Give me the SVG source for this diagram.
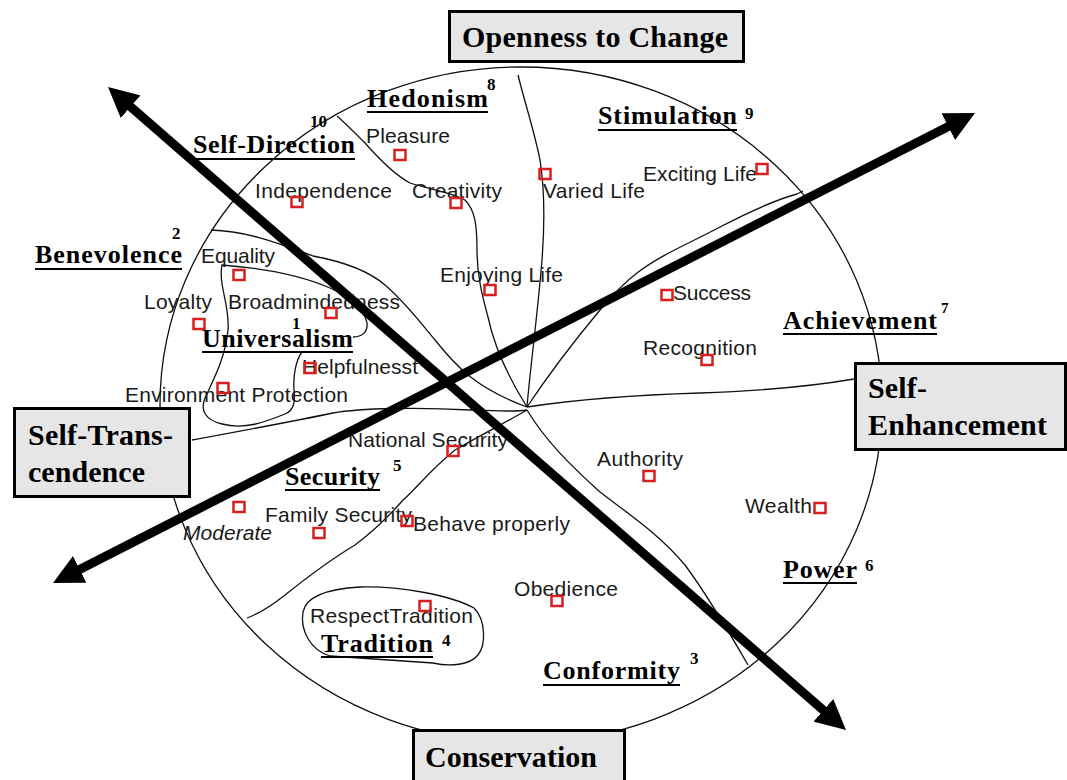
<svg xmlns="http://www.w3.org/2000/svg" width="1067" height="780" viewBox="0 0 1067 780">
<defs>
<marker id="ah" viewBox="0 0 30 30" refX="4" refY="15" markerWidth="30" markerHeight="30" markerUnits="userSpaceOnUse" orient="auto-start-reverse"><path d="M0,0 L30,15 L0,30 z" fill="#000"/></marker>
<style>
.bd{fill:none;stroke:#111;stroke-width:1.3}
.cat{font-family:"Liberation Serif","Times New Roman",serif;font-weight:bold;font-size:26px;fill:#000}
.num{font-family:"Liberation Serif","Times New Roman",serif;font-weight:bold;font-size:17px;fill:#000}
.ul{stroke:#000;stroke-width:2}
.val{font-family:"Liberation Sans",Arial,sans-serif;font-size:21px;fill:#1a1a1a}
.it{font-style:italic}
.sq{fill:none;stroke:#d81e1e;stroke-width:2.5}
.box rect{fill:#e6e6e6;stroke:#000;stroke-width:3}
.box text{font-family:"Liberation Serif","Times New Roman",serif;font-weight:bold;font-size:30px;fill:#000}
.arr{stroke:#000;stroke-width:9;fill:none}
</style>
</defs>
<rect width="1067" height="780" fill="#fff"/>

<g id="regions">
<ellipse cx="521" cy="405" rx="361" ry="338" class="bd"/>
<path class="bd" d="M527,407 Q600,396 700,393 Q790,390 854,379"/>
<path class="bd" d="M527,407 C545,380 575,340 600,310 C615,292 625,282 637,273 C660,255 690,243 720,227 C745,214 775,200 797,194 L803,191"/>
<path class="bd" d="M527,407 C530,370 537,320 542,260 C545,220 544,185 540,160 C534,130 524,100 518,75"/>
<path class="bd" d="M527,407 C510,380 495,350 488,317 C482,295 477,275 477,250 C477,225 475,210 465,200 C450,192 425,188 410,183 C395,175 380,160 365,143 C352,130 342,120 337,116"/>
<path class="bd" d="M211,230 C250,231 285,246 313,256 C345,262 370,272 385,285 C405,302 420,322 435,340 C455,365 475,388 527,407"/>
<path class="bd" d="M353,337 C362,337 368,332 367,323 C365,310 350,297 330,288 C300,275 260,268 222,265 C218,285 230,305 228,330 C225,360 212,382 205,398 C200,410 205,420 222,424 C245,430 265,422 285,414 C295,410 295,400 294,390 C293,375 296,360 302,352"/>
<path class="bd" d="M192,440 C230,433 290,422 333,413 C360,408 420,407 470,410 C495,411 515,412 527,410"/>
<path class="bd" d="M527,410 C510,420 490,430 455,450 C430,470 415,490 403,500 C390,515 375,530 355,545 C330,560 310,575 285,595 C270,607 258,614 247,618"/>
<path class="bd" d="M527,410 C545,440 570,465 600,492 C630,515 660,535 685,565 C705,592 725,625 748,665"/>
<path class="bd" d="M360,587 C400,586 450,595 474,608 C486,620 486,645 478,655 C470,665 450,667 433,663 L330,656 C310,650 300,630 303,612 C306,597 325,589 360,587 Z"/>
</g>

<g id="cat-hedonism"><text class="cat" x="367" y="107" textLength="121">Hedonism</text><line class="ul" x1="367" y1="112" x2="488" y2="112"/><text class="num" x="487" y="90">8</text></g>
<g id="cat-selfdirection"><text class="cat" x="193" y="153" textLength="162">Self-Direction</text><line class="ul" x1="193" y1="159" x2="355" y2="159"/><text class="num" x="310" y="127">10</text></g>
<g id="cat-stimulation"><text class="cat" x="598" y="124" textLength="139">Stimulation</text><line class="ul" x1="598" y1="130" x2="737" y2="130"/><text class="num" x="745" y="119">9</text></g>
<g id="cat-benevolence"><text class="cat" x="35" y="263" textLength="147">Benevolence</text><line class="ul" x1="35" y1="269" x2="182" y2="269"/><text class="num" x="172" y="239">2</text></g>
<g id="cat-universalism"><text class="cat" x="202" y="347" textLength="151">Universalism</text><line class="ul" x1="202" y1="352" x2="353" y2="352"/><text class="num" x="292" y="329">1</text></g>
<g id="cat-achievement"><text class="cat" x="783" y="329" textLength="154">Achievement</text><line class="ul" x1="783" y1="334" x2="937" y2="334"/><text class="num" x="941" y="313" style="font-size:15px">7</text></g>
<g id="cat-security"><text class="cat" x="285" y="485" textLength="95">Security</text><line class="ul" x1="285" y1="490" x2="380" y2="490"/><text class="num" x="393" y="471">5</text></g>
<g id="cat-power"><text class="cat" x="783" y="578" textLength="74">Power</text><line class="ul" x1="783" y1="583" x2="857" y2="583"/><text class="num" x="865" y="571">6</text></g>
<g id="cat-tradition"><text class="cat" x="321" y="652" textLength="112">Tradition</text><line class="ul" x1="321" y1="657" x2="433" y2="657"/><text class="num" x="442" y="646">4</text></g>
<g id="cat-conformity"><text class="cat" x="543" y="679" textLength="137">Conformity</text><line class="ul" x1="543" y1="685" x2="680" y2="685"/><text class="num" x="690" y="664">3</text></g>

<g id="v-pleasure"><text class="val" x="366" y="143" textLength="84">Pleasure</text><rect class="sq" x="394.5" y="150" width="11" height="10"/></g>
<g id="v-independence"><text class="val" x="255" y="198" textLength="137">Independence</text><rect class="sq" x="291.5" y="197" width="11" height="10"/></g>
<g id="v-creativity"><text class="val" x="412" y="198" textLength="90">Creativity</text><rect class="sq" x="450.5" y="198" width="11" height="10"/></g>
<g id="v-variedlife"><text class="val" x="543" y="198" textLength="102">Varied Life</text><rect class="sq" x="539.5" y="169" width="11" height="10"/></g>
<g id="v-excitinglife"><text class="val" x="643" y="181" textLength="114">Exciting Life</text><rect class="sq" x="756.5" y="164" width="11" height="10"/></g>
<g id="v-equality"><text class="val" x="201" y="263" textLength="74">Equality</text><rect class="sq" x="233.5" y="270" width="11" height="10"/></g>
<g id="v-loyalty"><text class="val" x="144" y="309" textLength="68">Loyalty</text><rect class="sq" x="193.5" y="319" width="11" height="10"/></g>
<g id="v-broadmindedness"><text class="val" x="228" y="309" textLength="172">Broadmindedness</text><rect class="sq" x="325.5" y="308" width="11" height="10"/></g>
<g id="v-helpfulness"><text class="val" x="302" y="374" textLength="116">Helpfulnesst</text><rect class="sq" x="304.5" y="363" width="11" height="10"/></g>
<g id="v-environment"><text class="val" x="125" y="402" textLength="223">Environment Protection</text><rect class="sq" x="217.5" y="383" width="11" height="10"/></g>
<g id="v-enjoyinglife"><text class="val" x="440" y="282" textLength="123">Enjoying Life</text><rect class="sq" x="484.5" y="285" width="11" height="10"/></g>
<g id="v-success"><text class="val" x="673" y="300" textLength="78">Success</text><rect class="sq" x="661.5" y="290" width="11" height="10"/></g>
<g id="v-recognition"><text class="val" x="643" y="355" textLength="114">Recognition</text><rect class="sq" x="701.5" y="355" width="11" height="10"/></g>
<g id="v-authority"><text class="val" x="597" y="466" textLength="86">Authority</text><rect class="sq" x="643.5" y="471" width="11" height="10"/></g>
<g id="v-wealth"><text class="val" x="745" y="513" textLength="67">Wealth</text><rect class="sq" x="814.5" y="503" width="11" height="10"/></g>
<g id="v-nationalsecurity"><text class="val" x="348" y="447" textLength="160">National Security</text><rect class="sq" x="447.5" y="446" width="11" height="10"/></g>
<g id="v-moderate"><text class="val it" x="183" y="540" textLength="89">Moderate</text><rect class="sq" x="233.5" y="502" width="11" height="10"/></g>
<g id="v-familysecurity"><text class="val" x="265" y="522" textLength="147">Family Security</text><rect class="sq" x="313.5" y="528" width="11" height="10"/></g>
<g id="v-behaveproperly"><text class="val" x="413" y="531" textLength="157">Behave properly</text><rect class="sq" x="401.5" y="516" width="11" height="10"/></g>
<g id="v-respecttradition"><text class="val" x="310" y="623" textLength="163">RespectTradition</text><rect class="sq" x="419.5" y="601" width="11" height="10"/></g>
<g id="v-obedience"><text class="val" x="514" y="596" textLength="104">Obedience</text><rect class="sq" x="551.5" y="596" width="11" height="10"/></g>

<g id="connectors">
<line class="arr" x1="127.6" y1="104.1" x2="826.4" y2="712.9" marker-start="url(#ah)" marker-end="url(#ah)"/>
<line class="arr" x1="76.2" y1="571.2" x2="951.8" y2="124.8" marker-start="url(#ah)" marker-end="url(#ah)"/>
</g>

<g id="box-openness" class="box"><rect x="449.5" y="11.5" width="294" height="50"/><text x="462" y="47" textLength="266">Openness to Change</text></g>
<g id="box-selftranscendence" class="box"><rect x="14.5" y="408.5" width="175" height="88"/><text x="28" y="445" textLength="145">Self-Trans-</text><text x="28" y="482" textLength="117">cendence</text></g>
<g id="box-selfenhancement" class="box"><rect x="855.5" y="363.5" width="210" height="86"/><text x="868" y="398" textLength="59">Self-</text><text x="868" y="435" textLength="179">Enhancement</text></g>
<g id="box-conservation" class="box"><rect x="413.5" y="730.5" width="211" height="60"/><text x="425" y="767" textLength="172">Conservation</text></g>
</svg>
